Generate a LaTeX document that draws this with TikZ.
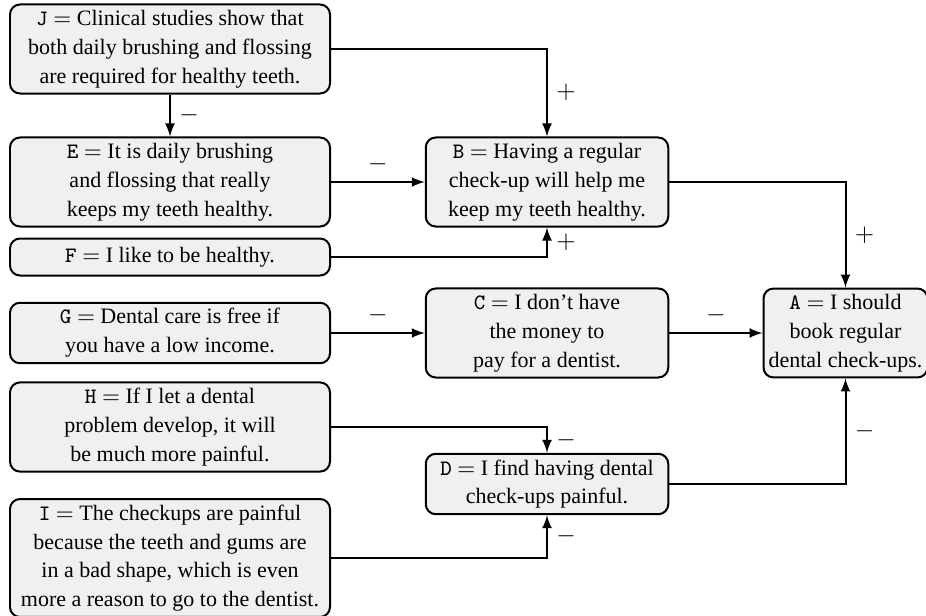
\documentclass[tikz,border=0pt]{standalone}
\usepackage{amsmath}
\usepackage{fontspec}
\setmainfont{Liberation Serif}
\usetikzlibrary{positioning}

\begin{document}
\begin{tikzpicture}[>=latex, thick, font=\fontsize{8.8pt}{11.5pt}\selectfont]
\tikzstyle{claim}=[shape=rectangle,draw,rounded corners=4pt,fill=gray!12,align=center,inner xsep=2pt,inner ysep=2.3pt]
\tikzstyle{premise}=[claim,minimum width=128pt]
\tikzstyle{inter}=[claim,minimum width=97pt]
\tikzstyle{sign}=[font=\fontsize{10pt}{12pt}\selectfont]
\useasboundingbox (0,0) rectangle (370.4pt,-246.4pt);

\node[premise] (J) at (68pt,-19.6pt) {\texttt{J} $=$ Clinical studies show that\\both daily brushing and flossing\\are required for healthy teeth.};
\node[premise, below of = J, node distance=53.2pt] (E) {\texttt{E} $=$ It is daily brushing\\and flossing that really\\keeps my teeth healthy.};
\node[premise, below of = E, node distance=30pt, minimum height=14.8pt] (F) {\texttt{F} $=$ I like to be healthy.};
\node[premise, below of = F, node distance=30.4pt] (G) {\texttt{G} $=$ Dental care is free if\\you have a low income.};
\node[premise, below of = G, node distance=37.6pt] (H) {\texttt{H} $=$ If I let a dental\\problem develop, it will\\be much more painful.};
\node[premise, below of = H, node distance=52.4pt] (I) {\texttt{I} $=$ The checkups are painful\\because the teeth and gums are\\in a bad shape, which is even\\more a reason to go to the dentist.};
\node[inter, right of = E, node distance=150.8pt] (B) {\texttt{B} $=$ Having a regular\\check-up will help me\\keep my teeth healthy.};
\node[inter, below of = B, node distance=60.4pt] (C) {\texttt{C} $=$ I don't have\\the money to\\pay for a dentist.};
\node[inter, below of = C, node distance=60.4pt] (D) {\texttt{D} $=$ I find having dental\\check-ups painful.};
\node[claim, right of = C, node distance=119.4pt, minimum width=64pt] (A) {\texttt{A} $=$ I should\\book regular\\dental check-ups.};

\path[->,draw] (J) -| node[sign, pos=0.75, right] {$+$} (B);
\path[->,draw] (J) -- node[sign, right] {$-$} (E);
\path[->,draw] (E) -- node[sign, above] {$-$} (B);
\path[->,draw] (F) -| node[sign, pos=0.75, right] {$+$} (B);
\path[->,draw] (B) -| node[sign, pos=0.75, right] {$+$} (A);
\path[->,draw] (G) -- node[sign, above] {$-$} (C);
\path[->,draw] (C) -- node[sign, above] {$-$} (A);
\path[->,draw] (H) -| node[sign, pos=0.75, right] {$-$} (D);
\path[->,draw] (I) -| node[sign, pos=0.75, right] {$-$} (D);
\path[->,draw] (D) -| node[sign, pos=0.75, right] {$-$} (A);
\end{tikzpicture}
\end{document}
